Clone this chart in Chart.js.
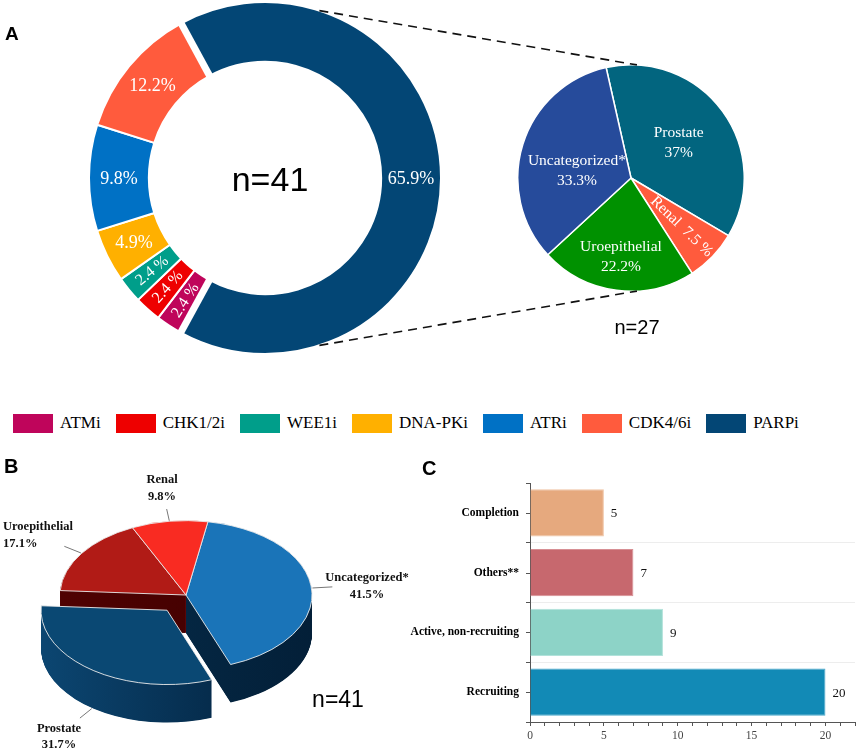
<!DOCTYPE html>
<html><head><meta charset="utf-8">
<script src="https://cdn.jsdelivr.net/npm/chart.js@4.4.0/dist/chart.umd.min.js"></script>
<style>
html,body{margin:0;padding:0;background:#fff;}
#wrap{position:relative;width:858px;height:750px;overflow:hidden;background:#fff;}
canvas{position:absolute;}
.lbl{position:absolute;font-family:"Liberation Sans",Arial,sans-serif;font-weight:bold;line-height:1;}
#legend{position:absolute;left:13px;top:413px;display:flex;align-items:center;font-family:"Liberation Serif","Times New Roman",serif;font-size:17px;color:#000;}
#legend .it{display:flex;align-items:center;margin-right:15px;}
#legend .sw{width:40px;height:19px;margin-right:7px;}
</style></head><body>
<div id="wrap">
<canvas id="cA" style="left:88px;top:1px;" width="354" height="354"></canvas>
<canvas id="cP" style="left:517px;top:64px;" width="228" height="228"></canvas>
<canvas id="cB" style="left:0px;top:455px;" width="430" height="295"></canvas>
<canvas id="cC" style="left:330px;top:455px;" width="528" height="295"></canvas>
<canvas id="ov" style="left:0px;top:0px;pointer-events:none;" width="858" height="400"></canvas>
<div class="lbl" style="left:5px;top:24px;font-size:19px;">A</div>
<div class="lbl" style="left:4px;top:456px;font-size:20px;">B</div>
<div class="lbl" style="left:422px;top:458px;font-size:20px;">C</div>
<div id="legend"></div>
</div>
<script>
// ---------------- DATA ----------------
const inhibitorLabels = ['ATMi','CHK1/2i','WEE1i','DNA-PKi','ATRi','CDK4/6i','PARPi'];
const inhibitorCounts = [1,1,1,2,4,5,27];
const inhibitorPctLabels = ['2.4 %','2.4 %','2.4 %','4.9%','9.8%','12.2%','65.9%'];

const parpLabels = ['Prostate','Renal','Uroepithelial','Uncategorized*'];
const parpCounts = [10,2,6,9];
const parpPctLabels = ['37%','7.5 %','22.2%','33.3%'];

const cancerLabels = ['Uncategorized*','Prostate','Uroepithelial','Renal'];
const cancerCounts = [17,13,7,4];
const cancerPctLabels = ['41.5%','31.7%','17.1%','9.8%'];

const statusLabels = ['Completion','Others**','Active, non-recruiting','Recruiting'];
const statusCounts = [5,7,9,20];

// ---------------- STYLES ----------------
const inhibitorColors = ['#bf055b','#ee0000','#009e8a','#ffb000','#0071c5','#ff5b3d','#034675'];
const parpColors = ['#02657f','#ff5b3d','#009100','#264b9b'];
const cancerTopColors = ['#1a74b8','#0a4873','#b11b16','#f92b22'];
const cancerSideColors = [['#06304f','#031f38'],['#0d4c7a','#03203b'],['#520202','#3e0000'],['#8a0c0c','#6a0505']];
const statusColors = ['#e6a97e','#c7686e','#8dd3c7','#128ab6'];
const statusBorders = ['#efc3a3','#d78f94','#b1e2da','#4aa8cb'];

const SERIF = '"Liberation Serif","Times New Roman",serif';
const SANS = '"Liberation Sans",Arial,sans-serif';
Chart.defaults.font.family = SERIF;
const sum = a => a.reduce((s,v)=>s+v,0);

// ---------------- LEGEND ----------------
const lg = document.getElementById('legend');
inhibitorLabels.forEach((l,i)=>{
  const it=document.createElement('div'); it.className='it';
  const sw=document.createElement('div'); sw.className='sw'; sw.style.background=inhibitorColors[i];
  const tx=document.createElement('span'); tx.textContent=l;
  it.appendChild(sw); it.appendChild(tx); lg.appendChild(it);
});

// ---------------- A: doughnut ----------------
const donutDecor = {
  id:'donutDecor',
  afterDatasetsDraw(chart){
    const ctx=chart.ctx, arcs=chart.getDatasetMeta(0).data, total=sum(inhibitorCounts);
    const p = arcs[inhibitorLabels.indexOf('PARPi')];
    ctx.save(); ctx.strokeStyle='#fff'; ctx.lineWidth=7;
    [p.startAngle,p.endAngle].forEach(a=>{
      ctx.beginPath();
      ctx.moveTo(p.x+Math.cos(a)*(p.innerRadius-3), p.y+Math.sin(a)*(p.innerRadius-3));
      ctx.lineTo(p.x+Math.cos(a)*(p.outerRadius+3), p.y+Math.sin(a)*(p.outerRadius+3));
      ctx.stroke();
    });
    ctx.restore();
    arcs.forEach((a,i)=>{
      const m=(a.startAngle+a.endAngle)/2, r=(a.innerRadius+a.outerRadius)/2;
      const small = inhibitorCounts[i]/total < 0.03;
      ctx.save();
      ctx.translate(a.x+Math.cos(m)*r, a.y+Math.sin(m)*r);
      if(small) ctx.rotate(m+Math.PI);
      ctx.font=(small?16:18)+'px '+SERIF;
      ctx.fillStyle='#fff'; ctx.textAlign='center'; ctx.textBaseline='middle';
      ctx.fillText(inhibitorPctLabels[i],0,small?0:1);
      ctx.restore();
    });
    ctx.save();
    ctx.font='34px '+SANS; ctx.fillStyle='#000'; ctx.textAlign='center'; ctx.textBaseline='middle';
    ctx.fillText('n='+total, arcs[0].x+5, arcs[0].y+4);
    ctx.restore();
  }
};
const donut = new Chart(document.getElementById('cA'),{
  type:'doughnut',
  data:{labels:inhibitorLabels,datasets:[{data:inhibitorCounts,backgroundColor:inhibitorColors,borderColor:'#fff',borderWidth:2}]},
  options:{responsive:false,animation:false,devicePixelRatio:1,cutout:'66%',rotation:208.6,events:[],
    layout:{padding:0},plugins:{legend:{display:false},tooltip:{enabled:false}}},
  plugins:[donutDecor]
});

// ---------------- A: sub pie ----------------
const pieLayout = {rad:[0.52,0.62,0.70,0.50], dy:[0,0,0,10]};
const pieDecor = {
  id:'pieDecor',
  afterDatasetsDraw(chart){
    const ctx=chart.ctx, arcs=chart.getDatasetMeta(0).data;
    arcs.forEach((a,i)=>{
      const m=(a.startAngle+a.endAngle)/2, r=a.outerRadius*pieLayout.rad[i];
      ctx.save();
      ctx.translate(a.x+Math.cos(m)*r, a.y+Math.sin(m)*r+pieLayout.dy[i]);
      ctx.font='15.5px '+SERIF; ctx.fillStyle='#fff'; ctx.textAlign='center'; ctx.textBaseline='middle';
      if(parpLabels[i]==='Renal'){
        ctx.rotate(m);
        ctx.fillText(parpLabels[i]+'  '+parpPctLabels[i],0,0);
      } else {
        ctx.fillText(parpLabels[i],0,-10);
        ctx.fillText(parpPctLabels[i],0,10);
      }
      ctx.restore();
    });
  }
};
const pie = new Chart(document.getElementById('cP'),{
  type:'pie',
  data:{labels:parpLabels,datasets:[{data:parpCounts,backgroundColor:parpColors,borderColor:'#fff',borderWidth:1.5}]},
  options:{responsive:false,animation:false,devicePixelRatio:1,rotation:-12.7,events:[],
    layout:{padding:0},plugins:{legend:{display:false},tooltip:{enabled:false}}},
  plugins:[pieDecor]
});

// ---------------- overlay: connector lines & n=27 ----------------
(function(){
  const ov=document.getElementById('ov'), ctx=ov.getContext('2d');
  const cA=document.getElementById('cA'), cP=document.getElementById('cP');
  const d=donut.getDatasetMeta(0).data[0], p=pie.getDatasetMeta(0).data[0];
  const ax=cA.offsetLeft+d.x, ay=cA.offsetTop+d.y, aR=d.outerRadius;
  const px=cP.offsetLeft+p.x, py=cP.offsetTop+p.y, pR=p.outerRadius;
  const aAng=72*Math.PI/180, pAng=87*Math.PI/180;
  ctx.strokeStyle='#111'; ctx.lineWidth=1.6; ctx.setLineDash([9,6]);
  [-1,1].forEach(s=>{
    ctx.beginPath();
    ctx.moveTo(ax+Math.cos(aAng)*aR, ay+s*Math.sin(aAng)*aR);
    ctx.lineTo(px+Math.cos(pAng)*pR, py+s*Math.sin(pAng)*pR);
    ctx.stroke();
  });
  ctx.setLineDash([]);
  ctx.font='20px '+SANS; ctx.fillStyle='#000'; ctx.textAlign='center'; ctx.textBaseline='middle';
  ctx.fillText('n='+sum(parpCounts), px+6, py+150);
})();

// ---------------- B: 3D pie ----------------
const B = {SQ:0.59, DEPTH:38, EXPL:32, explode:[false,true,false,false],
  text:[ {x:367,y:[578,595],align:'center'}, {x:59,y:[729,745],align:'center'},
         {x:3,y:[527,544],align:'left'}, {x:162,y:[480,497],align:'center'} ],
  drop:[0,38,0,0]};
function bShift(a,i){
  if(!B.explode[i]) return [0,0];
  const m=(a.startAngle+a.endAngle)/2;
  return [Math.cos(m)*B.EXPL, Math.sin(m)*B.EXPL];
}
function bSector(ctx,a,i,dy){
  const [sx,sy]=bShift(a,i);
  ctx.save();
  ctx.translate(0,dy);
  ctx.translate(a.x,a.y); ctx.scale(1,B.SQ); ctx.translate(-a.x,-a.y);
  ctx.translate(sx,sy);
  ctx.beginPath();
  ctx.moveTo(a.x,a.y);
  ctx.arc(a.x,a.y,a.outerRadius,a.startAngle,a.endAngle);
  ctx.closePath();
}
const pie3d = {
  id:'pie3d',
  beforeDatasetsDraw(chart){
    const ctx=chart.ctx, arcs=chart.getDatasetMeta(0).data;
    const cx=arcs[0].x, R=arcs[0].outerRadius;
    const grads=cancerSideColors.map(c=>{
      const g=ctx.createLinearGradient(cx-R-40,0,cx+R,0);
      g.addColorStop(0,c[0]); g.addColorStop(1,c[1]); return g;
    });
    for(let k=B.DEPTH;k>=0.5;k-=0.5){
      arcs.forEach((a,i)=>{
        bSector(ctx,a,i,k);
        ctx.fillStyle=grads[i]; ctx.fill();
        ctx.restore();
      });
    }
    arcs.forEach((a,i)=>{
      bSector(ctx,a,i,0);
      ctx.fillStyle=cancerTopColors[i]; ctx.fill();
      ctx.restore();
      bSector(ctx,a,i,0);
      ctx.setTransform(1,0,0,1,0,0);
      ctx.strokeStyle='rgba(235,235,235,0.9)'; ctx.lineWidth=1; ctx.stroke();
      ctx.restore();
    });
    return false;
  },
  afterDraw(chart){
    const ctx=chart.ctx, arcs=chart.getDatasetMeta(0).data, off=chart.canvas.offsetTop, offx=chart.canvas.offsetLeft;
    ctx.save();
    ctx.strokeStyle='#777'; ctx.lineWidth=1;
    arcs.forEach((a,i)=>{
      const m=(a.startAngle+a.endAngle)/2, [sx,sy]=bShift(a,i);
      const pt=r=>[a.x+sx+Math.cos(m)*r, a.y+B.SQ*(sy+Math.sin(m)*r)+B.drop[i]];
      const s=pt(a.outerRadius+1), e=pt(a.outerRadius+21);
      ctx.beginPath(); ctx.moveTo(s[0],s[1]); ctx.lineTo(e[0],e[1]); ctx.stroke();
      const t=B.text[i];
      ctx.font='bold 12.5px '+SERIF; ctx.fillStyle='#111'; ctx.textAlign=t.align; ctx.textBaseline='middle';
      ctx.fillText(cancerLabels[i], t.x-offx, t.y[0]-off);
      ctx.fillText(cancerPctLabels[i], t.x-offx, t.y[1]-off);
    });
    ctx.font='23px '+SANS; ctx.fillStyle='#000'; ctx.textAlign='center'; ctx.textBaseline='middle';
    ctx.fillText('n='+sum(cancerCounts), 338-offx, 701-off);
    ctx.restore();
  }
};
new Chart(document.getElementById('cB'),{
  type:'pie',
  data:{labels:cancerLabels,datasets:[{data:cancerCounts,backgroundColor:cancerTopColors,borderWidth:0}]},
  options:{responsive:false,animation:false,devicePixelRatio:1,rotation:10,events:[],
    layout:{padding:{left:60,right:118,top:14,bottom:29}},
    plugins:{legend:{display:false},tooltip:{enabled:false}}},
  plugins:[pie3d]
});

// ---------------- C: horizontal bars ----------------
const barValues = {
  id:'barValues',
  afterDatasetsDraw(chart){
    const ctx=chart.ctx, ys=chart.scales.y, left=chart.chartArea.left;
    ctx.save();
    ctx.strokeStyle='#555'; ctx.lineWidth=1;
    statusLabels.forEach((l,i)=>{
      const y=Math.round(ys.getPixelForValue(i))+0.5;
      ctx.beginPath(); ctx.moveTo(left-4,y); ctx.lineTo(left,y); ctx.stroke();
    });
    ctx.font='13px '+SERIF; ctx.fillStyle='#111'; ctx.textAlign='left'; ctx.textBaseline='middle';
    chart.getDatasetMeta(0).data.forEach((b,i)=>ctx.fillText(String(statusCounts[i]), b.x+7, b.y+1));
    ctx.restore();
  }
};
new Chart(document.getElementById('cC'),{
  type:'bar',
  data:{labels:statusLabels,datasets:[{data:statusCounts,backgroundColor:statusColors,borderColor:statusBorders,borderWidth:1,
    barPercentage:0.79,categoryPercentage:1}]},
  options:{indexAxis:'y',responsive:false,animation:false,devicePixelRatio:1,events:[],
    layout:{padding:{top:28,right:1,left:0,bottom:0}},
    plugins:{legend:{display:false},tooltip:{enabled:false}},
    scales:{
      x:{min:0,max:22,
        ticks:{stepSize:1,autoSkip:false,maxRotation:0,padding:3,color:'#444',font:{family:SERIF,size:11.5},
          callback:v=>v%5===0?String(v):''},
        grid:{drawOnChartArea:false,tickLength:4,color:'#555'},
        border:{color:'#555',width:1},
        afterFit:s=>{s.height=28;}},
      y:{ticks:{color:'#000',padding:7,font:{family:SERIF,size:11.5,weight:'bold'}},
        grid:{color:c=>c.index===0?'rgba(0,0,0,0)':'#ededed',tickColor:'#555',tickLength:4},
        border:{color:'#555',width:1},
        afterFit:s=>{s.width=200;}}
    }}
  ,plugins:[barValues]
});
</script>
</body></html>
